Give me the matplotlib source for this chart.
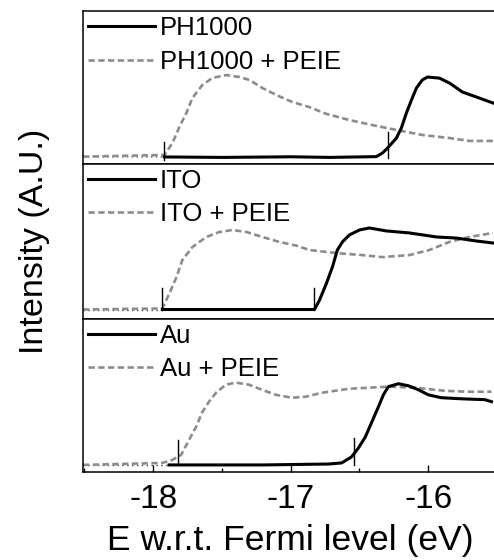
import numpy as np
import matplotlib
matplotlib.use("Agg")
import matplotlib.pyplot as plt

plt.rcParams["font.family"] = ["Liberation Sans", "DejaVu Sans"]
plt.rcParams["axes.unicode_minus"] = False

# ---- spectra (energy in eV w.r.t. Fermi level, normalised intensity) ----
ph_E = [-18.51, -17.92, -17.5, -17.0, -16.725, -16.384, -16.34, -16.304, -16.239,
        -16.203, -16.167, -16.130, -16.094, -16.051, -16.014, -15.928, -15.855,
        -15.761, -15.659, -15.54]
ph_I = [0.045, 0.043, 0.040, 0.044, 0.040, 0.045, 0.069, 0.10, 0.167,
        0.233, 0.33, 0.416, 0.495, 0.548, 0.567, 0.56, 0.528,
        0.469, 0.436, 0.397]

ph_peie_E = [-18.51, -17.92, -17.862, -17.812, -17.761, -17.717, -17.645, -17.572,
             -17.471, -17.377, -17.304, -17.210, -17.109, -16.993, -16.870, -16.746,
             -16.580, -16.413, -16.239, -16.051, -15.855, -15.710, -15.54]
ph_peie_I = [0.045, 0.056, 0.134, 0.239, 0.331, 0.43, 0.515, 0.561,
             0.58, 0.567, 0.548, 0.495, 0.449, 0.403, 0.37, 0.325,
             0.285, 0.252, 0.22, 0.187, 0.167, 0.148, 0.148]

ito_E = [-18.51, -17.935, -17.3, -16.9, -16.833, -16.797, -16.746, -16.703,
         -16.667, -16.630, -16.580, -16.507, -16.435, -16.312, -16.145, -15.949,
         -15.804, -15.659, -15.54]
ito_I = [0.058, 0.058, 0.058, 0.058, 0.058, 0.117, 0.227, 0.331,
         0.442, 0.494, 0.539, 0.571, 0.584, 0.565, 0.552, 0.526,
         0.519, 0.5, 0.487]

ito_peie_E = [-18.51, -17.935, -17.884, -17.833, -17.79, -17.717, -17.616, -17.522,
              -17.428, -17.326, -17.21, -17.087, -16.964, -16.87, -16.674, -16.486,
              -16.341, -16.145, -16.0, -15.855, -15.71, -15.54]
ito_peie_I = [0.058, 0.065, 0.162, 0.266, 0.377, 0.461, 0.526, 0.558,
              0.571, 0.558, 0.526, 0.494, 0.47, 0.442, 0.422, 0.409,
              0.396, 0.409, 0.442, 0.494, 0.526, 0.552]

au_E = [-18.51, -17.884, -17.2, -16.725, -16.630, -16.558, -16.507, -16.457,
        -16.413, -16.362, -16.326, -16.29, -16.217, -16.145, -16.072, -16.0,
        -15.906, -15.761, -15.587, -15.54]
au_I = [0.046, 0.046, 0.046, 0.052, 0.059, 0.098, 0.157, 0.229,
        0.32, 0.425, 0.503, 0.556, 0.575, 0.562, 0.536, 0.503,
        0.484, 0.477, 0.471, 0.458]

au_peie_E = [-18.51, -17.935, -17.862, -17.797, -17.739, -17.688, -17.645, -17.594,
             -17.543, -17.471, -17.399, -17.304, -17.21, -17.109, -16.993, -16.891,
             -16.775, -16.58, -16.435, -16.29, -16.094, -15.877, -15.71, -15.54]
au_peie_I = [0.046, 0.059, 0.078, 0.111, 0.209, 0.294, 0.386, 0.458,
             0.516, 0.569, 0.582, 0.569, 0.536, 0.503, 0.484, 0.49,
             0.516, 0.542, 0.549, 0.556, 0.549, 0.529, 0.523, 0.523]

# where each bare-substrate trace starts being drawn solid
bare_start = [-17.92, -17.935, -17.884]

# secondary-electron cut-off markers: (energy, bottom, top)
onsets = [
    [(-17.92, 0.023, 0.141), (-16.30, 0.036, 0.207)],
    [(-17.935, 0.052, 0.200), (-16.833, 0.052, 0.195)],
    [(-17.82, 0.059, 0.209), (-16.54, 0.046, 0.222)],
]

labels = [("PH1000", "PH1000 + PEIE"), ("ITO", "ITO + PEIE"), ("Au", "Au + PEIE")]
series = [
    (ph_E, ph_I, ph_peie_E, ph_peie_I),
    (ito_E, ito_I, ito_peie_E, ito_peie_I),
    (au_E, au_I, au_peie_E, au_peie_I),
]

W, H = 494, 560
fig = plt.figure(figsize=(W / 100, H / 100), dpi=100)

left_px, right_px = 83, 497
edges_px = [11, 163.5, 318.5, 472]
GRAY = "#8c8c8c"

axes = []
for i in range(3):
    top, bot = edges_px[i], edges_px[i + 1]
    ax = fig.add_axes([left_px / W, 1 - bot / H, (right_px - left_px) / W, (bot - top) / H])
    axes.append(ax)
    bE, bI, pE, pI = [np.asarray(a) for a in series[i]]

    # PEIE-coated sample: grey dashed
    ax.plot(pE, pI, color=GRAY, lw=1.9, ls=(0, (2.4, 1.3)), label=labels[i][1], zorder=2)

    # bare substrate: dotted baseline before the scan start, solid afterwards
    pre = bE <= bare_start[i]
    ax.plot(bE[pre], bI[pre], color="#444444", lw=1.0, ls=(0, (1, 2.5)), zorder=1)
    post = bE >= bare_start[i]
    ax.plot(bE[post], bI[post], color="black", lw=2.2, label=labels[i][0], zorder=3)

    for e, y0, y1 in onsets[i]:
        ax.plot([e, e], [y0, y1], color="black", lw=1.0, zorder=4)

    ax.set_xlim(-18.51, -15.51)
    ax.set_ylim(0, 1)
    ax.set_yticks([])
    for s in ax.spines.values():
        s.set_linewidth(1.1)

    handles, labs = ax.get_legend_handles_labels()
    order = [1, 0]
    ax.legend([handles[k] for k in order], [labs[k] for k in order],
              loc="upper left", frameon=False, fontsize=18.5,
              handlelength=2.6, handletextpad=0.2, labelspacing=0.38,
              borderaxespad=0.0, borderpad=0.2)

    if i < 2:
        ax.set_xticks([])
    else:
        ax.set_xticks([-18, -17, -16])
        ax.set_xticks([-18.5, -17.5, -16.5, -15.5], minor=True)
        ax.tick_params(axis="x", which="major", direction="in", length=5, width=1,
                       labelsize=24, pad=9)
        ax.tick_params(axis="x", which="minor", direction="in", length=3, width=1)
        ax.set_xlabel("E w.r.t. Fermi level (eV)", fontsize=25.5, labelpad=6)

fig.text(35 / W, 1 - 241.5 / H, "Intensity (A.U.)", rotation=90,
         ha="center", va="center", fontsize=24.5)

fig.savefig("out.png", dpi=100)
